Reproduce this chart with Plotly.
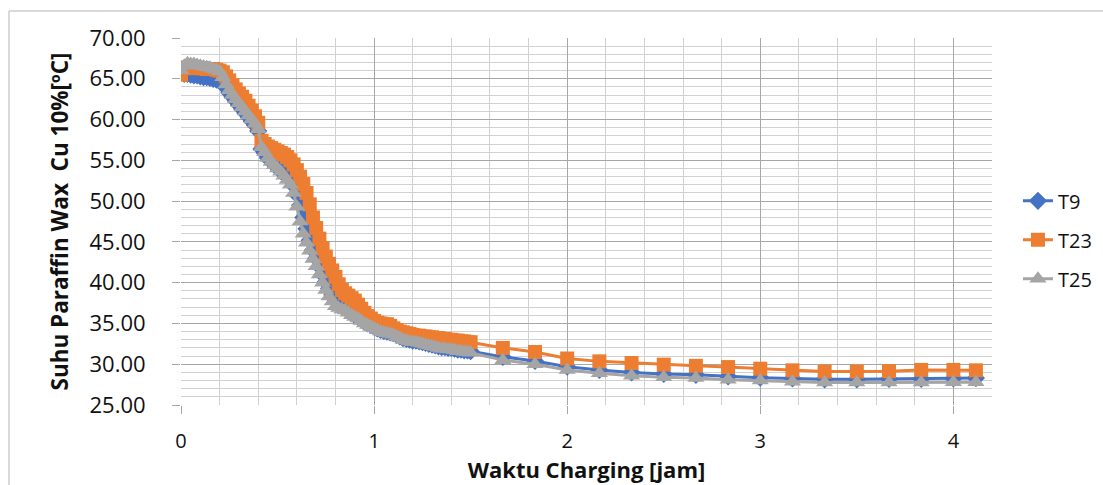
import plotly.graph_objects as go

# time in minutes (dense logging for first 90 min, then every 10 min)
minutes_dense = list(range(0, 91))
minutes_tail = [100, 110, 120, 130, 140, 150, 160, 170, 180, 190, 200, 210, 220, 230, 240, 247]

t9_dense = [65.8, 65.6, 65.6, 65.5, 65.4, 65.4, 65.3, 65.2, 65.2, 65.1,
            65.0, 64.9, 64.8, 64.4, 63.9, 63.3, 62.8, 62.3, 61.8, 61.3,
            60.8, 60.3, 59.8, 59.3, 58.6, 56.4, 55.9, 55.3, 54.9, 54.5,
            54.1, 53.7, 53.4, 53.0, 52.6, 51.9, 50.8, 49.5, 48.0, 46.6,
            45.2, 44.0, 43.0, 42.0, 41.0, 40.1, 39.3, 38.5, 37.9, 37.4,
            37.1, 36.9, 36.6, 36.3, 36.0, 35.8, 35.5, 35.2, 35.0, 34.8,
            34.6, 34.4, 34.2, 34.1, 34.0, 33.9, 33.8, 33.6, 33.4, 33.2,
            33.1, 33.0, 32.9, 32.9, 32.8, 32.7, 32.6, 32.5, 32.4, 32.3,
            32.2, 32.1, 32.1, 32.0, 32.0, 31.9, 31.8, 31.8, 31.7, 31.7,
            31.6]
t9_tail = [30.9, 30.4, 29.7, 29.3, 29.0, 28.8, 28.7, 28.5, 28.35, 28.25,
           28.15, 28.15, 28.2, 28.2, 28.25, 28.3]

t23_dense = [65.5, 66.3, 66.4, 66.4, 66.4, 66.3, 66.3, 66.3, 66.2, 66.2,
             66.2, 66.1, 66.0, 65.8, 65.3, 64.8, 64.2, 63.7, 63.2, 62.8,
             62.3, 61.7, 61.1, 60.4, 59.6, 57.4, 57.0, 56.7, 56.5, 56.3,
             56.1, 55.9, 55.7, 55.4, 55.0, 54.5, 53.8, 53.0, 52.1, 51.0,
             49.6, 48.0, 46.7, 45.4, 44.2, 43.2, 42.3, 41.5, 40.7, 39.8,
             39.1, 38.7, 38.4, 38.1, 37.8, 37.3, 36.8, 36.3, 35.9, 35.6,
             35.3, 35.1, 35.0, 34.9, 34.9, 34.7, 34.4, 34.2, 34.0, 33.9,
             33.8, 33.7, 33.6, 33.5, 33.5, 33.4, 33.4, 33.3, 33.3, 33.2,
             33.2, 33.1, 33.1, 33.0, 33.0, 32.9, 32.9, 32.8, 32.8, 32.7,
             32.7]
t23_tail = [32.0, 31.5, 30.7, 30.35, 30.15, 29.95, 29.8, 29.65, 29.45, 29.25,
            29.1, 29.1, 29.15, 29.3, 29.3, 29.25]

t25_dense = [66.0, 66.6, 66.9, 66.8, 66.8, 66.7, 66.6, 66.5, 66.4, 66.35,
             66.2, 66.1, 65.9, 65.2, 64.3, 63.6, 63.0, 62.5, 62.0, 61.5,
             61.0, 60.5, 60.0, 59.5, 58.8, 56.6, 56.0, 55.3, 54.8, 54.4,
             54.0, 53.6, 53.1, 52.6, 52.0, 51.0, 49.3, 47.5, 46.0, 44.9,
             43.9, 42.9, 42.0, 41.0, 40.0, 39.1, 38.3, 37.7, 37.1, 36.9,
             36.7, 36.6, 36.3, 36.0, 35.8, 35.6, 35.3, 35.0, 34.8, 34.6,
             34.4, 34.2, 34.0, 33.9, 33.8, 33.7, 33.6, 33.4, 33.2, 33.0,
             32.9, 32.8, 32.7, 32.7, 32.6, 32.5, 32.4, 32.3, 32.2, 32.1,
             32.0, 31.9, 31.9, 31.8, 31.8, 31.7, 31.6, 31.6, 31.5, 31.5,
             31.4]
t25_tail = [30.5, 30.0, 29.3, 28.9, 28.6, 28.4, 28.3, 28.1, 28.0, 27.85,
            27.75, 27.75, 27.75, 27.75, 27.8, 27.8]

x_tick_vals = [0, 1, 2, 3, 4]
y_tick_vals = [25, 30, 35, 40, 45, 50, 55, 60, 65, 70]

hours = [m / 60 for m in minutes_dense + minutes_tail]

series = [
    ("T9", t9_dense + t9_tail, "#4472C4", "diamond", 14),
    ("T23", t23_dense + t23_tail, "#ED7D31", "square", 14),
    ("T25", t25_dense + t25_tail, "#A5A5A5", "triangle-up", 15),
]

FONT = "Open Sans"

fig = go.Figure()
for i, (name, vals, color, sym, size) in enumerate(series):
    fig.add_trace(go.Scatter(
        x=hours, y=vals, name=name, mode="lines+markers",
        line=dict(color=color, width=3),
        marker=dict(symbol=sym, size=size, color=color, line=dict(width=0)),
        legendgroup=name,
    ))

grid_major = "#a6a6a6"
grid_minor = "#d0d0d0"

fig.update_xaxes(
    range=[0, 4.2], tickvals=x_tick_vals, ticktext=[str(v) for v in x_tick_vals],
    showgrid=True, gridcolor=grid_major, gridwidth=1,
    minor=dict(dtick=0.2, tick0=0, showgrid=True, gridcolor=grid_minor, gridwidth=1),
    ticks="outside", ticklen=8, tickcolor=grid_major,
    showline=False, zeroline=False, automargin=False,
    tickfont=dict(family=FONT, size=20, color="#111"),
    ticklabelstandoff=10,
    title=dict(text="<b>Waktu Charging [jam]</b>", font=dict(family=FONT, size=22, color="#111"), standoff=8),
)
fig.update_yaxes(
    range=[25, 70], tickvals=y_tick_vals, tickformat=".2f",
    showgrid=True, gridcolor=grid_major, gridwidth=1,
    minor=dict(dtick=1, tick0=25, showgrid=True, gridcolor=grid_minor, gridwidth=1),
    ticks="outside", ticklen=8, tickcolor=grid_major,
    showline=False, zeroline=False, automargin=False,
    tickfont=dict(family=FONT, size=22, color="#111"),
    ticklabelstandoff=22,
    title=dict(text="<b>Suhu Paraffin Wax  Cu 10%[ºC]</b>", font=dict(family=FONT, size=22.5, color="#111"), standoff=14),
)

# chart area border (Excel chart frame)
fig.add_shape(type="line", xref="paper", yref="paper", x0=-0.2121, x1=1.14, y0=1.0736, y1=1.0736,
              line=dict(color="#b4b4b4", width=1))
fig.add_shape(type="line", xref="paper", yref="paper", x0=-0.2121, x1=-0.2121, y0=1.0736, y1=-0.3,
              line=dict(color="#b4b4b4", width=1))

fig.update_layout(
    width=1103, height=485,
    margin=dict(l=181, r=111, t=38, b=80, autoexpand=False),
    paper_bgcolor="white", plot_bgcolor="white",
    font=dict(family=FONT, color="#111"),
    showlegend=True,
    legend=dict(x=1.032, y=0.45, xanchor="left", yanchor="middle",
                font=dict(family=FONT, size=20, color="#111"),
                tracegroupgap=10, bgcolor="rgba(0,0,0,0)"),
)

fig.write_html("out.html")
